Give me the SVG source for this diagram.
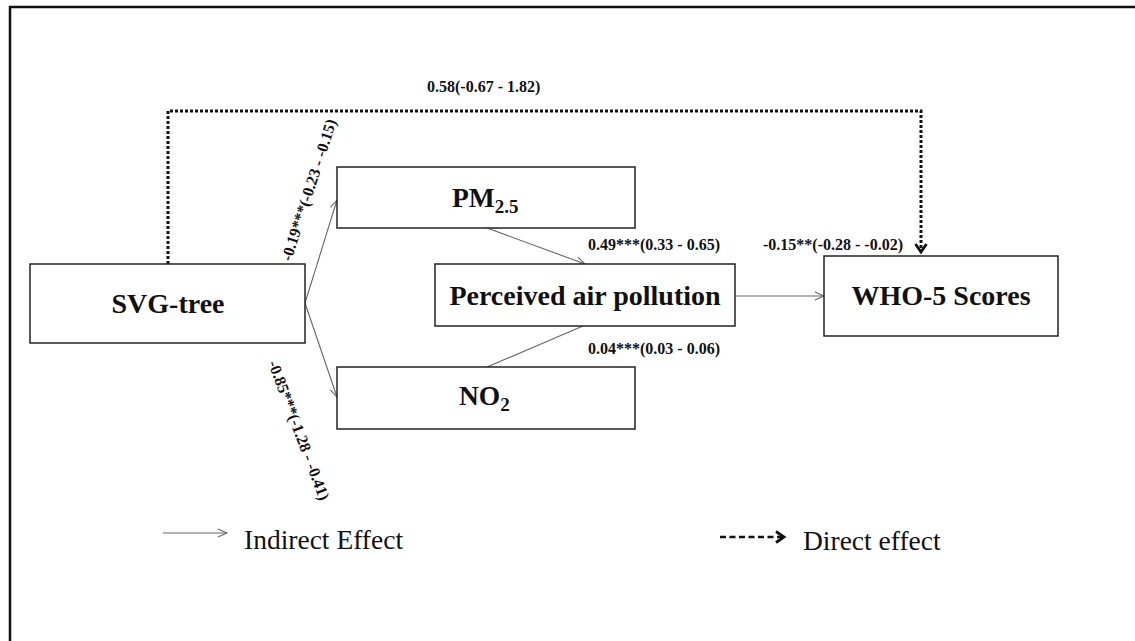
<svg xmlns="http://www.w3.org/2000/svg" width="1135" height="641" viewBox="0 0 1135 641">
<style>
.box{fill:#fff;stroke:#222;stroke-width:1.5}
.lbl{font-family:"Liberation Serif","Times New Roman",serif;font-weight:bold;fill:#111}
.big{font-size:28px;text-anchor:middle}
.coef{font-size:16px}
.leg{font-family:"Liberation Serif","Times New Roman",serif;font-size:27.5px;fill:#111}
.ind{stroke:#666;stroke-width:1.1;fill:none}
.dir{stroke:#111;stroke-width:3;fill:none;stroke-dasharray:3 2}
</style>
<defs>
<marker id="openArrow" markerUnits="userSpaceOnUse" markerWidth="12" markerHeight="12" refX="10" refY="5" orient="auto" viewBox="0 0 12 12">
<path d="M1,1 L10,5 L1,9" fill="none" stroke="#666" stroke-width="1.1"/>
</marker>
<marker id="boldArrow" markerUnits="userSpaceOnUse" markerWidth="14" markerHeight="16" refX="10" refY="7" orient="auto" viewBox="0 0 14 16">
<path d="M2,1.5 L10,7 L2,12.5" fill="none" stroke="#111" stroke-width="2.8"/>
</marker>
</defs>
<rect x="0" y="0" width="1135" height="641" fill="#fff"/>
<rect x="10" y="7" width="1140" height="660" fill="none" stroke="#111" stroke-width="2.5"/>

<g id="connectors">
<path class="dir" d="M168,264 V111 H921 V252" marker-end="url(#boldArrow)"/>
<line class="ind" x1="305" y1="303" x2="337" y2="200" marker-end="url(#openArrow)"/>
<line class="ind" x1="305" y1="303" x2="337" y2="397" marker-end="url(#openArrow)"/>
<line class="ind" x1="487" y1="228" x2="585" y2="264" marker-end="url(#openArrow)"/>
<line class="ind" x1="487" y1="367" x2="583" y2="326"/>
<line class="ind" x1="735" y1="296" x2="824" y2="296" marker-end="url(#openArrow)"/>
</g>

<g id="node-svgtree">
<rect class="box" x="30" y="264" width="275" height="79"/>
<text class="lbl big" x="168" y="313">SVG-tree</text>
</g>
<g id="node-pm25">
<rect class="box" x="337" y="167" width="298" height="61"/>
<text class="lbl" font-size="27.5" x="452" y="207">PM<tspan font-size="19" dy="6">2.5</tspan></text>
</g>
<g id="node-perceived">
<rect class="box" x="435" y="264" width="300" height="62"/>
<text class="lbl big" x="585" y="305">Perceived air pollution</text>
</g>
<g id="node-no2">
<rect class="box" x="337" y="367" width="298" height="62"/>
<text class="lbl" font-size="27.5" x="459" y="405">NO<tspan font-size="19" dy="6">2</tspan></text>
</g>
<g id="node-who5">
<rect class="box" x="824" y="256" width="234" height="80"/>
<text class="lbl big" x="941" y="305">WHO-5 Scores</text>
</g>

<g id="labels">
<text class="lbl coef" x="427" y="92">0.58(-0.67 - 1.82)</text>
<text class="lbl coef" x="588" y="250">0.49***(0.33 - 0.65)</text>
<text class="lbl coef" x="763" y="250">-0.15**(-0.28 - -0.02)</text>
<text class="lbl coef" x="588" y="354">0.04***(0.03 - 0.06)</text>
<text class="lbl coef" transform="translate(291,262) rotate(-72)">-0.19***(-0.23 - -0.15)</text>
<text class="lbl coef" transform="translate(268,363) rotate(69.5)">-0.85***(-1.28 - -0.41)</text>
</g>

<g id="legend">
<line class="ind" x1="163" y1="533" x2="227" y2="533" marker-end="url(#openArrow)"/>
<text class="leg" x="244" y="549">Indirect Effect</text>
<line x1="720" y1="537" x2="784" y2="537" stroke="#111" stroke-width="2.5" stroke-dasharray="6 3.5" marker-end="url(#boldArrow)"/>
<text class="leg" x="803" y="550">Direct effect</text>
</g>
</svg>
